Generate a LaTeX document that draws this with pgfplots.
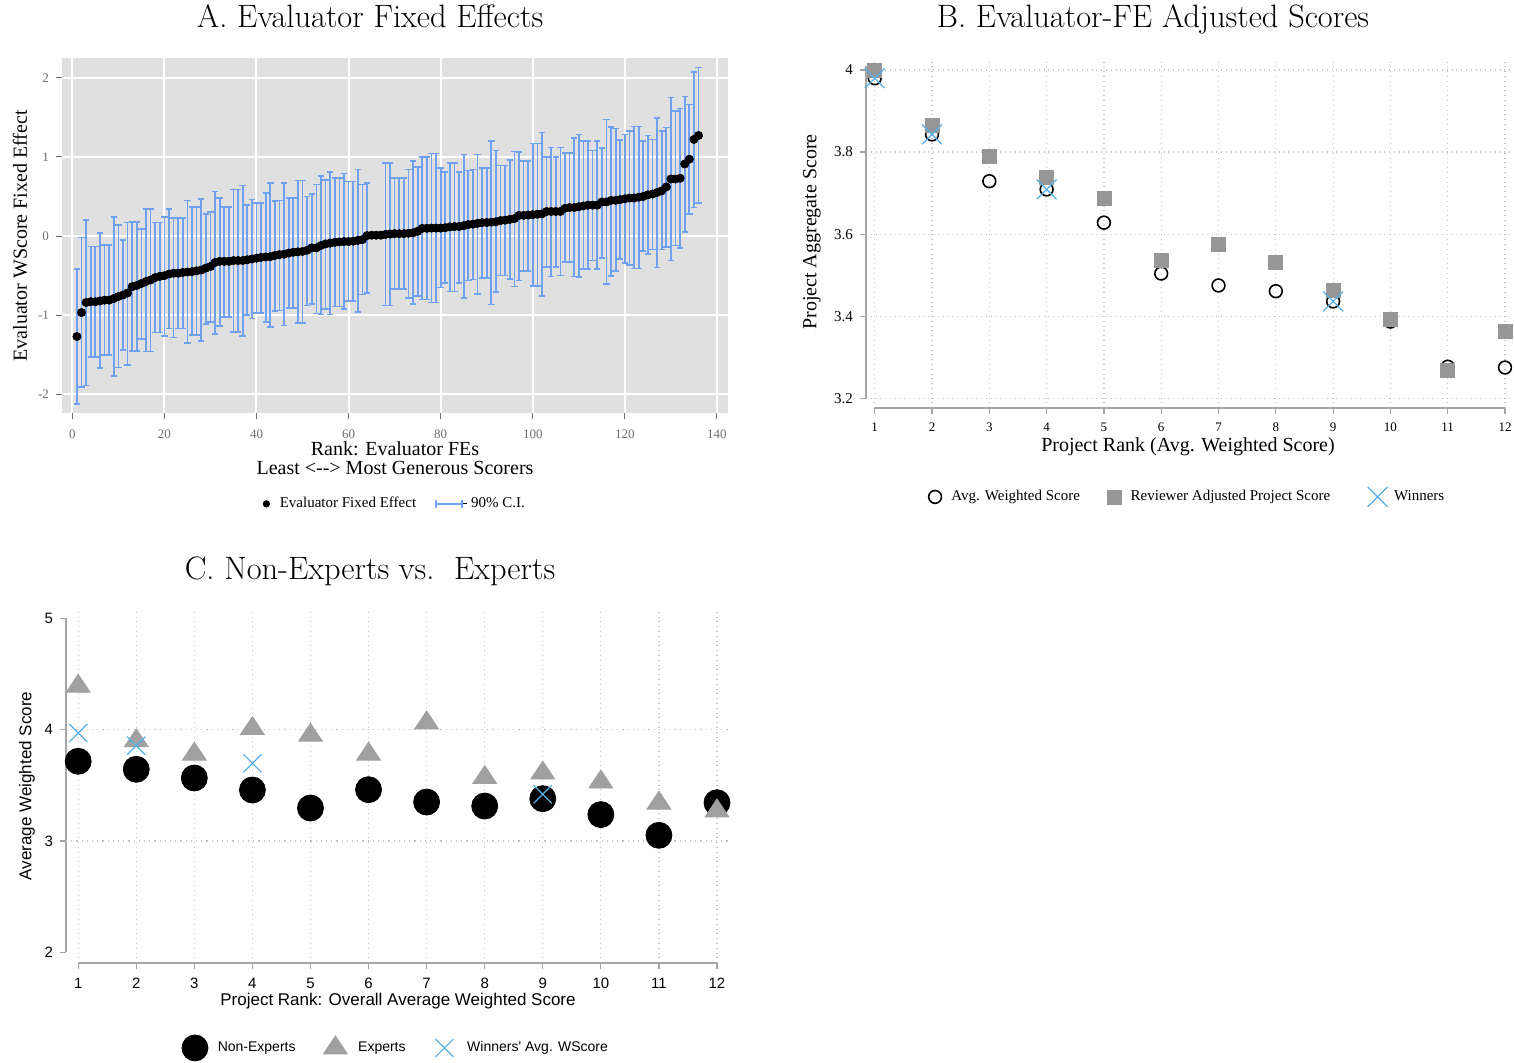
\documentclass[border=0pt]{standalone}
\usepackage{fontspec}
\usepackage{pgfplots}
\pgfplotsset{compat=1.18}
\usepackage{pgfplotstable}
\newfontfamily\sansfam{Liberation Sans}
\newfontfamily\labfam{Liberation Serif}

\definecolor{panelbg}{RGB}{224,224,224}
\definecolor{cibar}{RGB}{112,160,242}
\definecolor{axgray}{RGB}{165,165,165}
\definecolor{gridgray}{RGB}{195,195,195}
\definecolor{markgray}{RGB}{150,150,150}
\definecolor{trigray}{RGB}{160,160,160}
\definecolor{skyx}{RGB}{85,175,230}
\definecolor{tickgray}{RGB}{110,110,110}

% legend key: a single mark centred in a box of the given half-width
\pgfplotsset{
  keyhalf/.style={legend image code/.code={
    \path (-#1,0pt) (#1,0pt);
    \draw[##1] plot coordinates {(0pt,0pt)};}}
}

% Evaluator fixed effects by rank, with 90% confidence bounds
\pgfplotstableread{
rank fe lo hi
1 -1.27 -2.125 -0.414
2 -0.967 -1.91 -0.017
3 -0.84 -1.89 0.203
4 -0.83 -1.53 -0.135
5 -0.83 -1.53 -0.135
6 -0.82 -1.67 0.038
7 -0.81 -1.50 -0.11
8 -0.81 -1.50 -0.11
9 -0.79 -1.77 0.237
10 -0.765 -1.66 0.14
11 -0.745 -1.44 -0.05
12 -0.72 -1.63 0.17
13 -0.64 -1.45 0.18
14 -0.625 -1.45 0.18
15 -0.60 -1.30 0.09
16 -0.575 -1.46 0.34
17 -0.555 -1.46 0.34
18 -0.525 -1.22 0.173
19 -0.51 -1.22 0.173
20 -0.50 -1.26 0.24
21 -0.48 -1.17 0.34
22 -0.47 -1.28 0.23
23 -0.47 -1.17 0.23
24 -0.46 -1.17 0.23
25 -0.455 -1.35 0.45
26 -0.45 -1.25 0.37
27 -0.44 -1.25 0.37
28 -0.43 -1.33 0.47
29 -0.405 -1.11 0.28
30 -0.385 -1.09 0.30
31 -0.334 -1.24 0.56
32 -0.32 -1.14 0.48
33 -0.32 -1.02 0.37
34 -0.32 -1.02 0.37
35 -0.31 -1.21 0.59
36 -0.31 -1.21 0.59
37 -0.31 -1.26 0.64
38 -0.30 -1.00 0.39
39 -0.29 -1.04 0.46
40 -0.28 -0.97 0.42
41 -0.27 -0.97 0.42
42 -0.265 -1.09 0.54
43 -0.26 -1.15 0.67
44 -0.245 -0.95 0.44
45 -0.235 -0.94 0.45
46 -0.23 -1.13 0.67
47 -0.215 -0.91 0.48
48 -0.205 -0.91 0.48
49 -0.20 -1.10 0.70
50 -0.195 -1.10 0.70
51 -0.18 -0.88 0.50
52 -0.15 -0.86 0.53
53 -0.15 -0.98 0.65
54 -0.12 -0.99 0.76
55 -0.10 -0.92 0.71
56 -0.09 -0.99 0.81
57 -0.08 -0.89 0.735
58 -0.075 -0.89 0.735
59 -0.07 -0.925 0.79
60 -0.07 -0.82 0.69
61 -0.065 -0.82 0.69
62 -0.055 -0.96 0.84
63 -0.045 -0.74 0.65
64 0.005 -0.72 0.67
65 0.01 0.01 0.01
66 0.01 0.01 0.01
67 0.01 0.01 0.01
68 0.02 -0.88 0.925
69 0.025 -0.88 0.925
70 0.03 -0.67 0.73
71 0.03 -0.67 0.73
72 0.03 -0.67 0.73
73 0.035 -0.78 0.84
74 0.04 -0.86 0.945
75 0.06 -0.755 0.87
76 0.097 -0.80 0.996
77 0.097 -0.80 0.996
78 0.10 -0.84 1.04
79 0.10 -0.84 1.04
80 0.10 -0.65 0.86
81 0.105 -0.59 0.81
82 0.115 -0.70 0.92
83 0.12 -0.70 0.92
84 0.12 -0.59 0.81
85 0.13 -0.78 1.03
86 0.145 -0.56 0.83
87 0.15 -0.55 0.84
88 0.16 -0.73 1.03
89 0.17 -0.53 0.86
90 0.17 -0.53 0.86
91 0.175 -0.865 1.20
92 0.18 -0.71 1.08
93 0.195 -0.50 0.89
94 0.20 -0.50 0.89
95 0.21 -0.54 0.96
96 0.22 -0.64 1.07
97 0.26 -0.56 1.06
98 0.26 -0.44 0.945
99 0.265 -0.44 0.945
100 0.27 -0.63 1.17
101 0.275 -0.63 1.17
102 0.28 -0.755 1.31
103 0.31 -0.39 1.00
104 0.31 -0.51 1.12
105 0.31 -0.39 1.00
106 0.31 -0.50 1.12
107 0.35 -0.33 1.05
108 0.36 -0.33 1.05
109 0.36 -0.51 1.24
110 0.37 -0.52 1.28
111 0.38 -0.42 1.20
112 0.39 -0.42 1.20
113 0.39 -0.31 1.08
114 0.39 -0.42 1.20
115 0.43 -0.28 1.11
116 0.43 -0.61 1.47
117 0.45 -0.505 1.38
118 0.45 -0.44 1.36
119 0.46 -0.29 1.21
120 0.47 -0.34 1.28
121 0.48 -0.37 1.33
122 0.48 -0.41 1.385
123 0.49 -0.41 1.385
124 0.50 -0.19 1.20
125 0.52 -0.23 1.27
126 0.53 -0.17 1.22
127 0.55 -0.40 1.49
128 0.57 -0.17 1.33
129 0.62 -0.135 1.37
130 0.72 -0.31 1.75
131 0.72 -0.12 1.58
132 0.73 -0.15 1.61
133 0.91 0.05 1.76
134 0.97 0.28 1.66
135 1.22 0.36 2.07
136 1.27 0.42 2.13
}\fetable

% Project scores before and after the evaluator adjustment
\pgfplotstableread{
rank avg adj
1 3.980 4.000
2 3.843 3.864
3 3.729 3.789
4 3.709 3.738
5 3.628 3.686
6 3.504 3.535
7 3.475 3.576
8 3.461 3.531
9 3.436 3.463
10 3.387 3.392
11 3.277 3.267
12 3.275 3.362
}\projtable

\pgfplotstableread{
rank avg
1 3.980
2 3.843
4 3.709
9 3.436
}\winB

% Average weighted score by reviewer group
\pgfplotstableread{
rank nonexp exp
1 3.716 4.39
2 3.644 3.90
3 3.566 3.78
4 3.458 4.01
5 3.296 3.95
6 3.461 3.78
7 3.350 4.06
8 3.314 3.57
9 3.380 3.61
10 3.237 3.53
11 3.051 3.34
12 3.344 3.27
}\groupC

\pgfplotstableread{
rank wscore
1 3.970
2 3.856
4 3.698
9 3.420
}\winC

\begin{document}
\begin{tikzpicture}[x=1pt,y=1pt]
\useasboundingbox (0,0) rectangle (757,531);

% ---------------- Panel A ----------------
\begin{axis}[
  at={(31pt,324.5pt)}, anchor=south west, scale only axis,
  width=333pt, height=177.5pt,
  xmin=-2.24, xmax=142.4, ymin=-2.236, ymax=2.249,
  axis background/.style={fill=panelbg},
  axis line style={draw=none},
  tick pos=left, tick align=outside, major tick length=3pt,
  tick style={tickgray, line width=0.5pt},
  grid=major, grid style={white, line width=1pt},
  xtick={0,20,40,60,80,100,120,140},
  xticklabels={0,20,40,60,80,100,120,140},
  ytick={-2,-1,0,1,2},
  yticklabels={-2,-1,0,1,2},
  ticklabel style={font=\labfam\fontsize{6.5}{7}\selectfont, text=tickgray},
  xticklabel style={yshift=-2pt},
  legend columns=2,
  legend style={at={(0.497,-0.256)}, anchor=center, draw=none, fill=none,
    font=\labfam\fontsize{7.5}{8}\selectfont,
    /tikz/column 2/.style={column sep=7.5pt}},
]
\addplot[only marks, mark=none, forget plot,
  error bars/.cd, y dir=both, y explicit,
  error bar style={draw=cibar, line width=0.85pt},
  error mark=-,
  error mark options={draw=cibar, line width=0.8pt, mark size=1.6pt, rotate=90}]
  table[x=rank, y=fe,
        y error plus expr=\thisrow{hi}-\thisrow{fe},
        y error minus expr=\thisrow{fe}-\thisrow{lo}] {\fetable};
\addplot[only marks, mark=*, mark size=1.9pt, black, forget plot]
  table[x=rank, y=fe] {\fetable};
\addlegendimage{only marks, mark=*, black, mark size=1.6pt, keyhalf=4.5pt}
\addlegendentry{Evaluator Fixed Effect}
\addlegendimage{legend image code/.code={
  \path (0pt,0pt) -- (15.5pt,0pt);
  \draw[cibar, line width=0.7pt] (0pt,0pt) -- (13pt,0pt);
  \draw[cibar, line width=0.7pt] (0pt,-2pt) -- (0pt,2pt) (13pt,-2pt) -- (13pt,2pt);}}
\addlegendentry{90\% C.I.}
\end{axis}

\node[anchor=base, font=\fontsize{16.2}{18}\selectfont] at (185,517) {A. Evaluator Fixed Effects};
\node[rotate=90, font=\labfam\fontsize{10}{11}\selectfont] at (10,413) {Evaluator WScore Fixed Effect};
\node[align=center, font=\labfam\fontsize{10}{9.5}\selectfont] at (197.5,301.75)
  {Rank: Evaluator FEs\\Least <{-}{-}> Most Generous Scorers};

% ---------------- Panel B ----------------
\begin{axis}[
  at={(433pt,327pt)}, anchor=south west, scale only axis,
  width=324pt, height=173pt,
  xmin=0.848, xmax=12.157, ymin=3.1764, ymax=4.0195,
  clip=false,
  axis line style={draw=none},
  tick pos=left, tick align=outside, major tick length=3pt,
  tick style={axgray, line width=0.6pt},
  grid=major, grid style={gridgray, dotted, line width=0.6pt},
  xtick={1,2,3,4,5,6,7,8,9,10,11,12},
  xticklabels={1,2,3,4,5,6,7,8,9,10,11,12},
  ytick={3.2,3.4,3.6,3.8,4},
  yticklabels={3.2,3.4,3.6,3.8,4},
  xticklabel style={font=\labfam\fontsize{6.5}{7}\selectfont, yshift=-1pt},
  yticklabel style={font=\labfam\fontsize{7.5}{8}\selectfont},
  legend columns=3,
  legend style={at={(0.493,-0.257)}, anchor=center, draw=none, fill=none,
    font=\labfam\fontsize{7.5}{8}\selectfont,
    /tikz/column 2/.style={column sep=9pt},
    /tikz/column 4/.style={column sep=15.5pt}},
]
\draw[axgray, line width=0.8pt] (axis cs:0.848,3.2) -- (axis cs:0.848,4.01);
\draw[axgray, line width=0.8pt] (axis cs:1,3.1764) -- (axis cs:12,3.1764);
\addplot[only marks, mark=o, black, mark size=3.2pt, mark options={line width=0.8pt}, keyhalf=6pt]
  table[x=rank, y=avg] {\projtable};
\addlegendentry{Avg. Weighted Score}
\addplot[only marks, mark=square*, markgray, mark size=3.5pt, keyhalf=6pt]
  table[x=rank, y=adj] {\projtable};
\addlegendentry{Reviewer Adjusted Project Score}
\addplot[only marks, mark=x, skyx, mark size=7pt, mark options={line width=0.6pt}, keyhalf=6pt]
  table[x=rank, y=avg] {\winB};
\addlegendentry{Winners}
\end{axis}

\node[anchor=base, font=\fontsize{16.2}{18}\selectfont] at (576.5,517) {B. Evaluator-FE Adjusted Scores};
\node[rotate=90, font=\labfam\fontsize{10}{11}\selectfont] at (406,415) {Project Aggregate Score};
\node[font=\labfam\fontsize{10}{11}\selectfont] at (594,307.5) {Project Rank (Avg. Weighted Score)};

% ---------------- Panel C ----------------
\begin{axis}[
  at={(33pt,49.5pt)}, anchor=south west, scale only axis,
  width=332pt, height=175.5pt,
  xmin=0.79, xmax=12.224, ymin=1.904, ymax=5.057,
  clip=false,
  axis line style={draw=none},
  tick pos=left, tick align=outside, major tick length=3pt,
  tick style={axgray, line width=0.6pt},
  xmajorgrids, grid style={gridgray, dotted, line width=0.6pt},
  xtick={1,2,3,4,5,6,7,8,9,10,11,12},
  xticklabels={1,2,3,4,5,6,7,8,9,10,11,12},
  ytick={2,3,4,5},
  yticklabels={2,3,4,5},
  ticklabel style={font=\sansfam\fontsize{7.5}{8}\selectfont},
  xticklabel style={yshift=-1pt},
  legend columns=3,
  legend style={at={(0.494,-0.242)}, anchor=center, draw=none, fill=none,
    font=\sansfam\fontsize{7}{8}\selectfont,
    /tikz/column 2/.style={column sep=8.5pt},
    /tikz/column 4/.style={column sep=8pt}},
]
\draw[axgray, line width=0.8pt] (axis cs:0.79,2) -- (axis cs:0.79,5);
\draw[axgray, line width=0.8pt] (axis cs:1,1.904) -- (axis cs:12,1.904);
\draw[gridgray, dotted, line width=0.6pt] (axis cs:0.79,3) -- (axis cs:12.224,3);
\draw[gridgray, dotted, line width=0.6pt] (axis cs:0.79,4) -- (axis cs:12.224,4);
\addplot[only marks, mark=*, black, mark size=6.5pt, keyhalf=9.2pt]
  table[x=rank, y=nonexp] {\groupC};
\addlegendentry{Non-Experts}
\addplot[only marks, mark=triangle*, trigray, mark size=6.9pt, mark options={yscale=0.87}, keyhalf=9.2pt]
  table[x=rank, y=exp] {\groupC};
\addlegendentry{Experts}
\addplot[only marks, mark=x, skyx, mark size=6.4pt, mark options={line width=0.6pt}, keyhalf=9.2pt]
  table[x=rank, y=wscore] {\winC};
\addlegendentry{Winners' Avg. WScore}
\end{axis}

\node[anchor=base, font=\fontsize{16.2}{18}\selectfont] at (185,241.5) {C. Non-Experts vs.\ \ Experts};
\node[rotate=90, font=\sansfam\fontsize{8.5}{9}\selectfont] at (13.5,138) {Average Weighted Score};
\node[font=\sansfam\fontsize{8.5}{9}\selectfont] at (199,30.5) {Project Rank: Overall Average Weighted Score};
\end{tikzpicture}
\end{document}
